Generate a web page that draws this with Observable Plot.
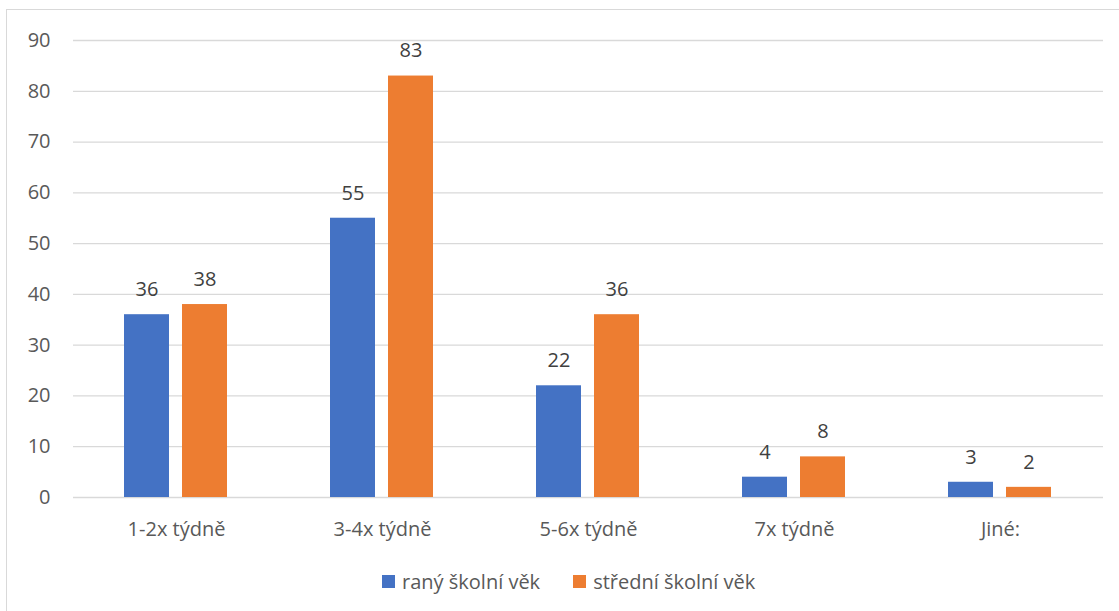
<!DOCTYPE html>
<html>
<head>
<meta charset="utf-8">
<script src="https://cdn.jsdelivr.net/npm/d3@7"></script>
<script src="https://cdn.jsdelivr.net/npm/@observablehq/plot@0.6"></script>
<style>
  html, body { margin: 0; padding: 0; background: #fff; overflow: hidden; width: 1119px; height: 611px; }
  #frame { position: absolute; left: 6px; top: 9px; width: 1300px; height: 800px; border: 1.5px solid #d9d9d9; box-sizing: border-box; }
  #chart { position: absolute; left: 0; top: 0; }
  #legend { position: absolute; left: 382px; top: 568px; display: flex; align-items: center; font-family: "Open Sans", sans-serif; font-size: 20px; color: #595959; }
  .item { display: flex; align-items: center; margin-right: 33px; }
  .sw { width: 13px; height: 13px; margin-right: 7px; }
</style>
</head>
<body>
<div id="frame"></div>
<div id="chart"></div>
<div id="legend"></div>
<script>
const categories = ["1-2x týdně", "3-4x týdně", "5-6x týdně", "7x týdně", "Jiné:"];
const seriesNames = ["raný školní věk", "střední školní věk"];
const ranyValues = [36, 55, 22, 4, 3];
const stredniValues = [38, 83, 36, 8, 2];
const seriesColors = ["#4472C4", "#ED7D31"];
const yTicks = [0, 10, 20, 30, 40, 50, 60, 70, 80, 90];

const data = categories.flatMap((c, i) => [
  {cat: c, series: seriesNames[0], value: ranyValues[i]},
  {cat: c, series: seriesNames[1], value: stredniValues[i]}
]);

const chart = Plot.plot({
  width: 1119,
  height: 545,
  marginLeft: 71,
  marginRight: 15,
  marginTop: 40,
  marginBottom: 48,
  style: {fontFamily: "'Open Sans', sans-serif", fontSize: "20px", color: "#595959", background: "transparent", overflow: "visible"},
  fx: {domain: categories, padding: 0, label: null, tickSize: 0, tickPadding: 24, axis: "bottom"},
  x: {domain: seriesNames, axis: null, paddingInner: 0.216, paddingOuter: 0.868},
  y: {domain: [0, 90], ticks: yTicks, tickSize: 0, tickPadding: 23, label: null},
  color: {domain: seriesNames, range: seriesColors},
  marks: [
    Plot.ruleY(yTicks, {stroke: "#d9d9d9", strokeWidth: 1.3}),
    Plot.barY(data, {fx: "cat", x: "series", y: "value", fill: "series"}),
    Plot.text(data, {fx: "cat", x: "series", y: "value", text: d => String(d.value), lineAnchor: "middle", dy: -25, fill: "#404040", fontSize: 20})
  ]
});
document.getElementById("chart").appendChild(chart);

const legend = document.getElementById("legend");
seriesNames.forEach((name, i) => {
  const item = document.createElement("div");
  item.className = "item";
  const sw = document.createElement("div");
  sw.className = "sw";
  sw.style.background = seriesColors[i];
  const label = document.createElement("span");
  label.textContent = name;
  item.appendChild(sw);
  item.appendChild(label);
  legend.appendChild(item);
});
</script>
</body>
</html>
